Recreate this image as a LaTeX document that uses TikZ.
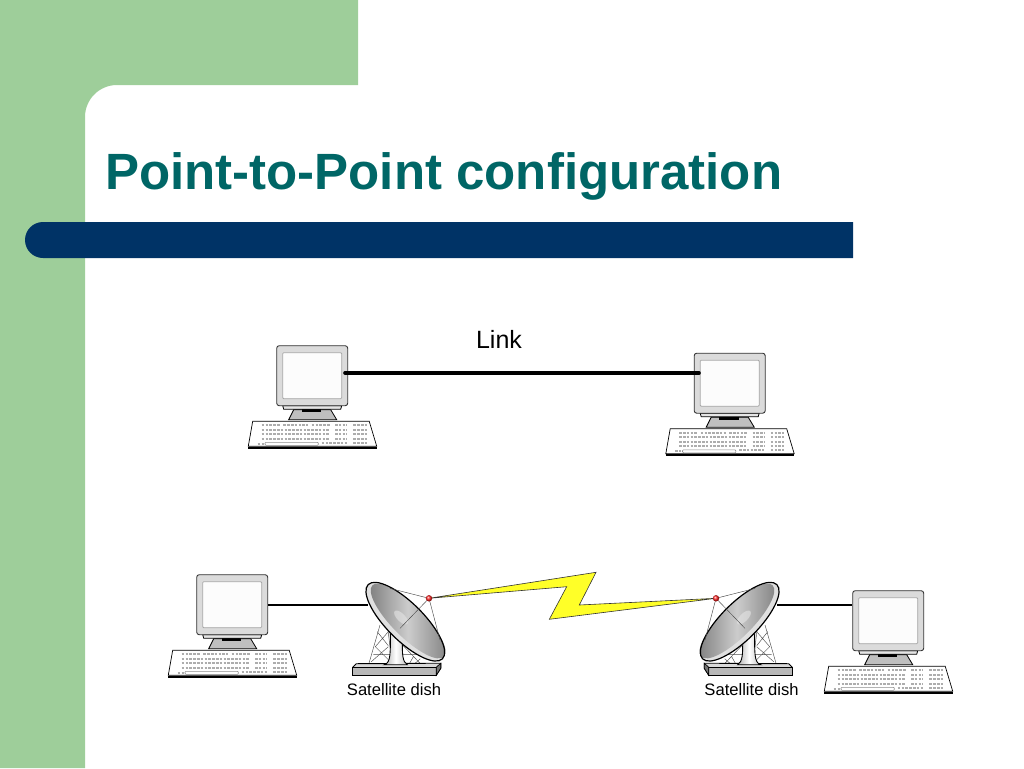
\documentclass[tikz,border=0pt]{standalone}
\usepackage{fontspec}
\setmainfont{Liberation Sans}
\usepackage{xcolor}
\usetikzlibrary{positioning,calc}
\pgfdeclarelayer{background}
\pgfsetlayers{background,main}
\definecolor{mygreen}{RGB}{158,206,154}
\definecolor{mynavy}{RGB}{0,51,102}
\definecolor{myteal}{RGB}{0,102,102}
\definecolor{myyellow}{RGB}{255,255,40}
\tikzstyle{title}=[anchor=base west,inner sep=0,text=myteal,font=\fontsize{51}{51}\selectfont\bfseries]
\tikzstyle{link label}=[inner sep=0,font=\fontsize{25}{25}\selectfont]
\tikzstyle{dish label}=[inner sep=0,font=\fontsize{16.6}{17}\selectfont]
\tikzstyle{monitor}=[draw=black!80,line width=0.9,rounded corners=2.5,fill=black!14,minimum width=71,minimum height=60,inner sep=0]
\tikzstyle{screen}=[draw=black!35,line width=0.8,rounded corners=1,fill=black!1,minimum width=59,minimum height=46,inner sep=0]
\tikzstyle{keys}=[black!32,line width=2,dash pattern=on 2.6 off 1.2]
\tikzstyle{link}=[line width=3.6,line cap=round]
\tikzstyle{wire}=[line width=1.4]
\tikzstyle{thin wire}=[black!70,line width=0.45]
\tikzstyle{bolt}=[draw=black!80,line width=0.6,fill=myyellow]
\tikzset{
  computer/.pic={
    % stand
    \draw[line width=0.8,fill=black!25] (12,74) -- (17,64) -- (54,64) -- (60,74) -- cycle;
    \fill[black] (25,63.5) rectangle (44.5,66.5);
    \draw[line width=0.8,fill=black!10] (6,60) -- (7,63.5) -- (64,63.5) -- (65,60) -- cycle;
    % monitor
    \node[monitor] (-body) at (35.5,30) {};
    \node[screen] (-screen) at (35.5,30) {};
    % keyboard
    \draw[line width=0.7,fill=white] (-24,75.5) -- (92.5,75.5) -- (100,100.5) -- (-28.4,100.5) -- cycle;
    \draw[line width=1.6] (-28.4,102) -- (100,102);
    \foreach \ky in {84,88.4,92.8}
      \foreach \xa/\xb in {-15/53.3,58.3/70,76.6/90}
        \draw[keys] (\xa,\ky) -- (\xb,\ky);
    \foreach \xa/\xb in {-15/3.3,6.6/31.6,35/53.3,58.3/70,76.6/90}
      \draw[keys] (\xa,79.6) -- (\xb,79.6);
    \draw[black!45,line width=0.6,rounded corners=1] (-11.7,96.6) rectangle (41.7,99.6);
    \draw[keys] (-19,98) -- (-13,98);
    \draw[keys] (45,97.2) -- (70,97.2);
    \draw[keys] (76.6,97.2) -- (90,97.2);
  },
  dish/.pic={
    % lattice
    \draw[thin wire] (-25.3,3.3) -- (-37,44) (-18,3) -- (-13,44)
      (-28,10) -- (-17,24) (-17,10) -- (-30,25) (-30,25) -- (-17,38) (-17,25) -- (-34,40)
      (-32,33) -- (-15,33) (14,33) -- (-4,33)
      (-3,23) -- (18,45) (8,35) -- (3,44) (15,37) -- (6,45);
    % base
    \draw[line width=0.9,fill=black!15] (-49,42) -- (35.5,41.5) -- (35.5,46.5) -- (31,53.5) -- (-52.5,53.5) -- (-52.5,45.5) -- cycle;
    \draw[line width=0.7,fill=black!28] (-52.5,45.5) -- (31,45.5) -- (31,53.5) -- (-52.5,53.5) -- cycle;
    \draw[line width=0.7,fill=black!55] (31,45.5) -- (35.5,41.5) -- (35.5,46.5) -- (31,53.5) -- cycle;
    % pedestal
    \draw[line width=0.9,left color=black!30,right color=black!25,middle color=white]
      (-15,8) .. controls (-15,30) and (-14,41) .. (-21,43) -- (2,43) .. controls (-3,40) and (-3,32) .. (-3,20) -- cycle;
    % dish
    \begin{scope}[rotate=-45]
      \fill[black!12] (0,0) ellipse [x radius=52.5,y radius=18.5];
      \shade[left color=black!52,right color=black!50,middle color=black!20] (1.5,-2.5) ellipse [x radius=50.5,y radius=15.8];
      \fill[black!10,opacity=0.6] (-6,0) ellipse [x radius=9,y radius=4];
      \draw[line width=1.2] (0,0) ellipse [x radius=52.5,y radius=18.5];
    \end{scope}
    % feed
    \coordinate (-feed) at (23.7,-23.4);
    \coordinate (-back) at (-37.3,-16.7);
    \draw[thin wire] (-15.3,-33.3) -- (-feed) -- (34.7,18.3) (-feed) -- (-5.3,6.7);
  }
}
\begin{document}
\begin{tikzpicture}[x=1pt,y=-1pt]
\useasboundingbox (0,0) rectangle (1024,768);

% adding the background
\begin{pgfonlayer}{background}
    \fill[mygreen] (0,0) -- (358,0) -- (358,85) -- (117,85) arc[start angle=270,end angle=180,radius=32] -- (85,768) -- (0,768) -- cycle;
    \fill[mynavy] (853,222) -- (853,258) -- (43,258) arc[start angle=90,end angle=270,radius=18] -- cycle;
\end{pgfonlayer}

\node [title] (T) at (105,189) {Point-to-Point configuration};

% Computers
\pic (pc1) at (276.7,345.7) {computer};
\pic (pc2) at (694.2,353.2) {computer};
\pic (pc3) at (196.7,574.7) {computer};
\pic (pc4) at (852.7,590.7) {computer};

% Dishes
\pic (dish1) at (405.3,621.7) {dish};
\pic [xscale=-1] (dish2) at (739.7,621.7) {dish};

% Labels
\node [link label] (L) at (499,339) {Link};
\node [dish label] (S1) at (394,690) {Satellite dish};
\node [dish label] (S2) at (751.5,690) {Satellite dish};

\coordinate (A) at (345,373);
\coordinate (B) at (699,373);
\draw [link] (A) -- (B);

\draw [wire] (pc3-body.east |- dish1-back) -- (dish1-back);
\draw [wire] (dish2-back) -- (pc4-body.west |- dish2-back);

% radio link
\coordinate (Z1) at (596,572.3);
\coordinate (Z2) at (579.3,605);
\coordinate (Z3) at (549.3,619.3);
\coordinate (Z4) at (566.7,586.7);
\draw [bolt] (dish1-feed) -- (Z1) -- (Z2) -- (dish2-feed) -- (Z3) -- (Z4) -- cycle;
\shade[ball color=red!85] (dish1-feed) circle (3.2);
\shade[ball color=red!85] (dish2-feed) circle (3.2);

\end{tikzpicture}
\end{document}
